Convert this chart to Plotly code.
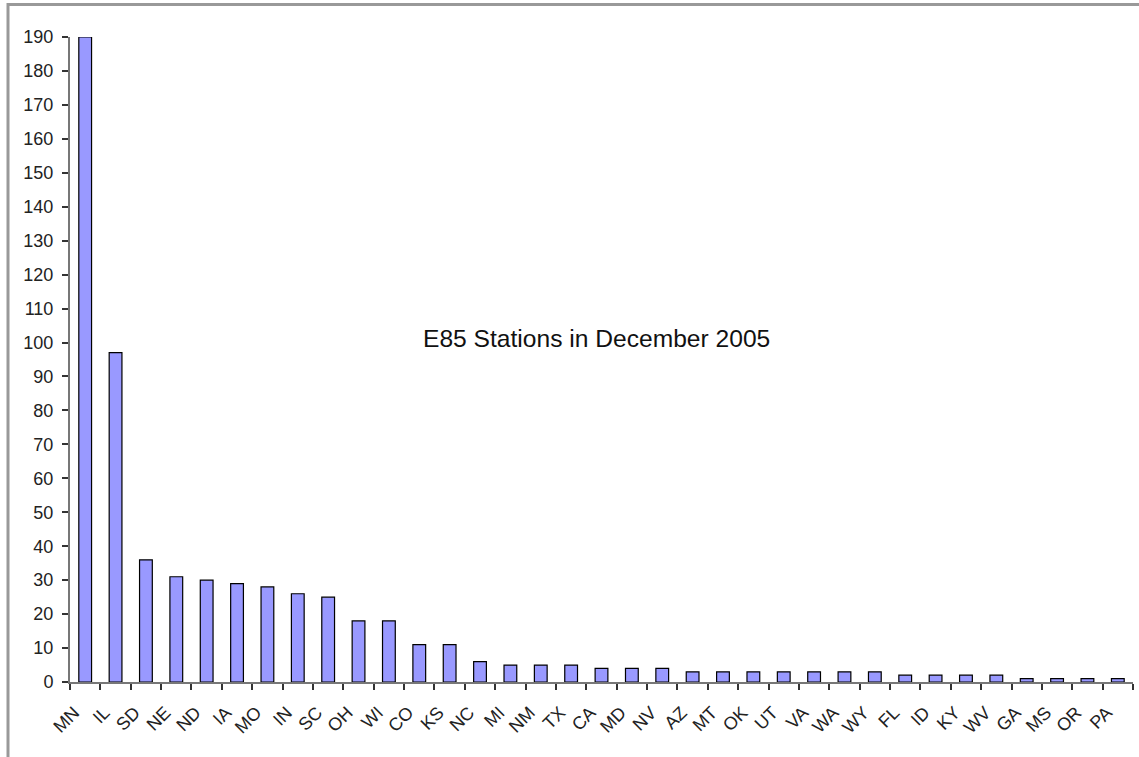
import plotly.graph_objects as go

states = ["MN", "IL", "SD", "NE", "ND", "IA", "MO", "IN", "SC", "OH", "WI", "CO",
          "KS", "NC", "MI", "NM", "TX", "CA", "MD", "NV", "AZ", "MT", "OK", "UT",
          "VA", "WA", "WY", "FL", "ID", "KY", "WV", "GA", "MS", "OR", "PA"]
stations = [190, 97, 36, 31, 30, 29, 28, 26, 25, 18, 18, 11,
            11, 6, 5, 5, 5, 4, 4, 4, 3, 3, 3, 3,
            3, 3, 3, 2, 2, 2, 2, 1, 1, 1, 1]
y_ticks = list(range(0, 191, 10))
title_text = "E85 Stations in December 2005"

W, H = 1139, 757
L, R, T, B = 70, 6, 37, 75
pw, ph = W - L - R, H - T - B

def px(x):
    return (x - L) / pw

def py(y):
    return 1 - (y - T) / ph

fig = go.Figure(go.Bar(
    x=states, y=stations, width=0.42,
    marker=dict(color="#9999FF", line=dict(color="#000000", width=1.2)),
))

font_family = "Liberation Sans, Arial, sans-serif"

fig.update_layout(
    width=W, height=H,
    margin=dict(l=L, r=R, t=T, b=B, autoexpand=False),
    paper_bgcolor="white", plot_bgcolor="white",
    showlegend=False,
    font=dict(family=font_family, size=18, color="#222222"),
    xaxis=dict(
        type="category", range=[-0.5, len(states) - 0.5], automargin=False,
        tickangle=-45, tickson="boundaries", ticks="outside", ticklen=6,
        tickcolor="#333333", tickwidth=1.5,
        ticklabelshift=-11, ticklabelstandoff=11,
        showline=True, linecolor="#777777", linewidth=2,
        showgrid=False, zeroline=False,
        tickfont=dict(size=18, color="#222222"),
    ),
    yaxis=dict(
        range=[0, 190], tickvals=y_ticks, ticks="outside", ticklen=6,
        automargin=False, ticklabelstandoff=5,
        tickcolor="#333333", tickwidth=1.5,
        showline=True, linecolor="#777777", linewidth=2,
        showgrid=False, zeroline=False,
        tickfont=dict(size=18, color="#222222"),
    ),
    annotations=[dict(
        text=title_text, xref="paper", yref="paper",
        x=px(596), y=py(338), xanchor="center", yanchor="middle",
        showarrow=False, font=dict(size=24.6, color="#111111", family=font_family),
    )],
    shapes=[
        dict(type="line", xref="paper", yref="paper",
             x0=px(8), x1=px(W + 5), y0=py(4.5), y1=py(4.5),
             line=dict(color="#999999", width=3)),
        dict(type="line", xref="paper", yref="paper",
             x0=px(8), x1=px(8), y0=py(3), y1=py(H + 5),
             line=dict(color="#999999", width=3)),
    ],
)

fig.write_html(
    "out.html",
    config={"displayModeBar": False},
    post_script="document.body.style.margin='0';document.body.style.overflow='hidden';",
)
